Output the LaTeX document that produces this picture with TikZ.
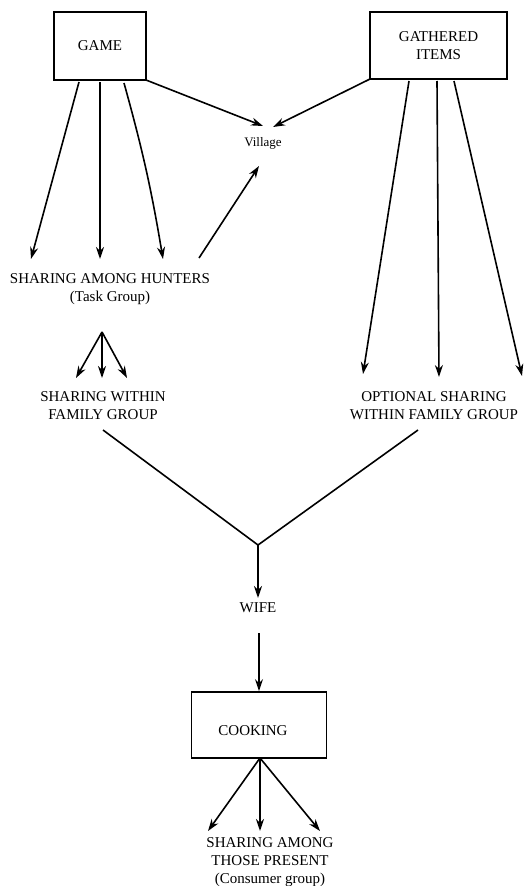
\documentclass[tikz,border=0pt]{standalone}
\usepackage{fontspec}
\setmainfont{Liberation Serif}
\usetikzlibrary{arrows.meta}
\begin{document}
\begin{tikzpicture}[x=1pt,y=-1pt,
  every node/.style={font=\fontsize{15}{18}\selectfont, align=center, inner sep=0pt},
  box/.style={draw, line width=1.8pt},
  thickbox/.style={draw, line width=2.6pt},
  arr/.style={line width=1.6pt, -{Stealth[length=12pt,width=8pt]}},
  ln/.style={line width=1.6pt}]
\useasboundingbox (0,0) rectangle (523,886);
% boxes
\node[box, minimum width=92pt, minimum height=68pt] (game) at (100,46) {GAME};
\node[thickbox, minimum width=137pt, minimum height=67pt] (gath) at (438.5,45.5) {GATHERED\\ ITEMS};
\node (village) at (263,143) {\fontsize{13}{15}\selectfont Village};
\node (hunt) at (110,289) {SHARING AMONG HUNTERS\\ (Task Group)};
\node (fam) at (103,406) {SHARING WITHIN\\ FAMILY GROUP};
\node (opt) at (434,406) {OPTIONAL SHARING\\ WITHIN FAMILY GROUP};
\node (wife) at (258,608) {WIFE};
\node[box, minimum width=135pt, minimum height=66pt] (cook) at (259,725) {};
\node (cooktxt) at (253,731) {COOKING};
\node (pres) at (270,862) {SHARING AMONG\\ THOSE PRESENT\\ (Consumer group)};
% coordinates
\coordinate (g1) at (79,82);
\coordinate (g2) at (100,82);
\coordinate (g3) at (124,83);
\coordinate (h1) at (31,259);
\coordinate (h2) at (100,259);
\coordinate (h3) at (163,259);
\coordinate (gv) at (146,80);
\coordinate (v1) at (263,126);
\coordinate (iv) at (370,79);
\coordinate (v2) at (273,127);
\coordinate (hv) at (199,258);
\coordinate (v3) at (259,166);
\coordinate (i1) at (409,81);
\coordinate (i2) at (437,81);
\coordinate (i3) at (454,81);
\coordinate (o1) at (363,374);
\coordinate (o2) at (439,377);
\coordinate (o3) at (522,376);
\coordinate (f0) at (102,332);
\coordinate (f1) at (76,378);
\coordinate (f2) at (102,378);
\coordinate (f3) at (127,378);
\coordinate (vl) at (103,430);
\coordinate (vr) at (418,430);
\coordinate (vb) at (258,545);
\coordinate (w1) at (258,598);
\coordinate (w2) at (259,633);
\coordinate (c0) at (260,758);
\coordinate (p1) at (208,831);
\coordinate (p2) at (260,831);
\coordinate (p3) at (320,831);
% connectors
\draw[arr] (g1) -- (h1);
\draw[arr] (g2) -- (h2);
\draw[arr] (g3) to[bend left=3] (h3);
\draw[arr] (gv) -- (v1);
\draw[arr] (iv) -- (v2);
\draw[arr] (hv) -- (v3);
\draw[arr] (i1) -- (o1);
\draw[arr] (i2) -- (o2);
\draw[arr] (i3) -- (o3);
\draw[arr] (f0) -- (f1);
\draw[arr] (f0) -- (f2);
\draw[arr] (f0) -- (f3);
\draw[ln] (vl) -- (vb) -- (vr);
\draw[arr, line width=2pt] (vb) -- (w1);
\draw[arr] (w2) -- (cook.north);
\draw[arr] (c0) -- (p1);
\draw[arr, line width=2pt] (c0) -- (p2);
\draw[arr] (c0) -- (p3);
\end{tikzpicture}
\end{document}
